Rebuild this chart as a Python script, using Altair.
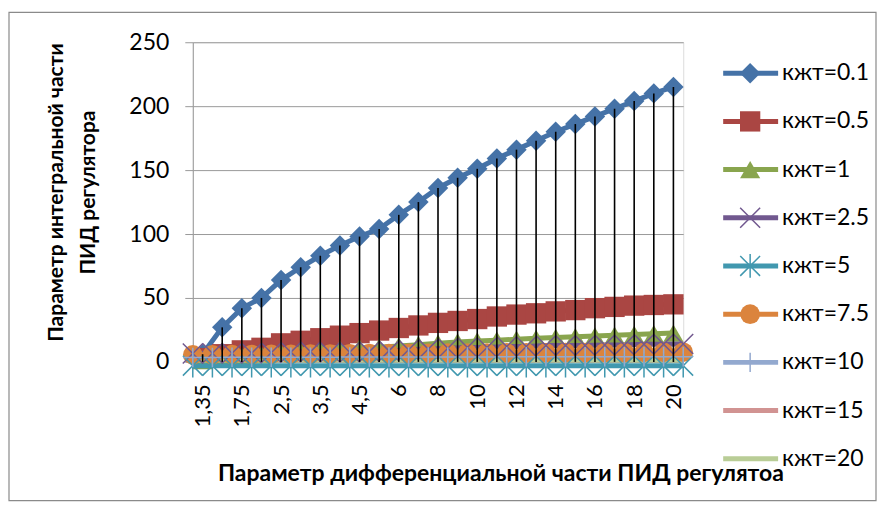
import json
import altair as alt
import pandas as pd

# ---------------- data ----------------
categories = ["1,35", "1,5", "1,75", "2", "2,5", "3", "3,5", "4", "4,5", "5",
              "6", "7", "8", "9", "10", "11", "12", "13", "14", "15",
              "16", "17", "18", "19", "20"]

series_names = ["кжт=0.1", "кжт=0.5", "кжт=1", "кжт=2.5", "кжт=5",
                "кжт=7.5", "кжт=10", "кжт=15", "кжт=20"]
series_colors = ["#4572A7", "#AA4643", "#89A54E", "#71588F", "#4198AF",
                 "#DB843D", "#93A9CF", "#D19392", "#B9CD96"]

# primary-axis series (one value per category)
k01 = [6, 27, 42, 50, 64, 74, 83, 91, 98, 104, 115, 125, 136, 144, 151,
       159, 166, 173, 180, 186, 192, 198, 204, 210, 215]
k05 = [3, 6, 9, 11, 14.5, 16.5, 18.5, 20.5, 22.5, 24.5, 26.5, 28.5, 30.5,
       32, 33.5, 35.5, 37, 38, 39.5, 40.5, 42, 43, 44, 44.5, 45]
k1 = [1, 3, 4.5, 5.5, 7, 8, 9, 10, 11, 11.5, 12.5, 13.5, 14.5, 15.5, 16.3,
      17, 17.7, 18.4, 19, 19.6, 20.2, 20.8, 21.4, 22, 22.5]

# secondary-axis series (plotted between the category ticks, 26 points)
k25 = [6.5, 6.8, 6.8, 6.8, 7.2, 7.6, 8, 7.5, 7.5, 8, 8.6, 9.5, 10, 10.7,
       11.2, 11.2, 12, 12, 12.8, 12.8, 12.8, 13.2, 13.2, 13.8, 13.8, 14]
k5 = [-3, -3, -3, -3, -3, -3, -3, -3, -3, -3, -3, -3, -3, -3, -3, -3, -3,
      -3, -3, -3, -3, -3, -3, -3, -3, -3]
k75 = [5.5, 5.6, 5.7, 5.8, 5.9, 6, 6.1, 6.2, 6.3, 6.4, 6.5, 6.6, 6.7, 6.8,
       6.8, 6.9, 7, 7, 7.1, 7.2, 7.2, 7.3, 7.3, 7.4, 7.4, 7.5]
k10 = [3.5, 3.5, 3.6, 3.6, 3.6, 3.7, 3.7, 3.7, 3.8, 3.8, 3.8, 3.8, 3.9,
       3.9, 3.9, 3.9, 4, 4, 4, 4, 4, 4, 4, 4, 4, 4]
k15 = [2.5, 2.5, 2.5, 2.5, 2.5, 2.5, 2.5, 2.5, 2.5, 2.5, 2.5, 2.5, 2.5,
       2.5, 2.5, 2.5, 2.5, 2.5, 2.5, 2.5, 2.5, 2.5, 2.5, 2.5, 2.5, 2.5]
k20 = [1.5, 1.5, 1.5, 1.5, 1.5, 1.5, 1.5, 1.5, 1.5, 1.5, 1.5, 1.5, 1.5,
       1.5, 1.5, 1.5, 1.5, 1.5, 1.5, 1.5, 1.5, 1.5, 1.5, 1.5, 1.5, 1.5]

y_ticks = [0, 50, 100, 150, 200, 250]

y_title = ["Параметр интегральной части", "ПИД регулятора"]
x_title = "Параметр дифференциальной части ПИД регулятоа"

# ---------------- tables ----------------
primary = {"кжт=0.1": k01, "кжт=0.5": k05, "кжт=1": k1}
secondary = {"кжт=2.5": k25, "кжт=5": k5, "кжт=7.5": k75,
             "кжт=10": k10, "кжт=15": k15, "кжт=20": k20}

rows_p = []
for name, vals in primary.items():
    for i, v in enumerate(vals):
        rows_p.append({"series": name, "pos": i, "value": v})
df_p = pd.DataFrame(rows_p)

rows_s = []
for name, vals in secondary.items():
    for i, v in enumerate(vals):
        rows_s.append({"series": name, "pos": i - 0.5, "value": v})
df_s = pd.DataFrame(rows_s)

df_drop = pd.DataFrame({"pos": list(range(len(k01))), "value": k01})
df_leg = pd.DataFrame({"series": series_names})

# ---------------- styling ----------------
FONT = "Lato"
GRAY = "#9a9a9a"

marker_names = ["кжт=0.1", "кжт=0.5", "кжт=1", "кжт=2.5", "кжт=5", "кжт=7.5", "кжт=10"]
marker_shapes = ["diamond", "square", "triangle-up",
                 "M-1,-1L1,1M-1,1L1,-1",
                 "M-1,-1L1,1M-1,1L1,-1M0,-1.2L0,1.2",
                 "circle",
                 "M-1,0L1,0M0,-1L0,1"]
marker_sizes = [420, 380, 400, 200, 200, 220, 230]
filled_set = ["кжт=0.1", "кжт=0.5", "кжт=1", "кжт=7.5"]
stroked_set = ["кжт=2.5", "кжт=5", "кжт=10"]

color_enc = alt.Color("series:N", scale=alt.Scale(domain=series_names, range=series_colors), legend=None)
shape_enc = alt.Shape("series:N", scale=alt.Scale(domain=marker_names, range=marker_shapes), legend=None)
size_enc = alt.Size("series:N", scale=alt.Scale(domain=marker_names, range=marker_sizes), legend=None)

x_scale = alt.Scale(domain=[-0.5, len(categories) - 0.5], nice=False, zero=False)
y_scale = alt.Scale(domain=[0, 250], nice=False)

label_expr = json.dumps(categories, ensure_ascii=False) + "[datum.value]"

x_axis = alt.Axis(
    values=list(range(0, len(categories), 2)), labelExpr=label_expr,
    labelAngle=270, labelFont=FONT, labelFontSize=22, labelColor="#000",
    labelPadding=22, ticks=False, grid=False, domainColor=GRAY,
    title=x_title, titleFont=FONT, titleFontSize=23, titleFontWeight="bold",
    titleColor="#000", titleX=308, titleY=119, titleAlign="center",
    titleBaseline="alphabetic", titleAnchor="start")
y_axis = alt.Axis(
    values=y_ticks, grid=True, gridColor=GRAY, tickSize=8, tickColor=GRAY,
    domainColor=GRAY, labelFont=FONT, labelFontSize=23, labelColor="#000",
    labelPadding=16, title=y_title, titleFont=FONT, titleFontSize=21,
    titleFontWeight="bold", titleColor="#000", titleLineHeight=32,
    titleX=-126, titleY=150, titleAngle=270, titleBaseline="bottom",
    titleAlign="center", titleAnchor="start")

x_enc = alt.X("pos:Q", scale=x_scale, axis=x_axis)
y_enc = alt.Y("value:Q", scale=y_scale, axis=y_axis)

# primary series
p_lines = alt.Chart(df_p).mark_line(strokeWidth=5).encode(
    x=x_enc, y=y_enc, color=color_enc, detail="series:N", order="pos:Q")
p_points = alt.Chart(df_p).mark_point(filled=True, opacity=1).encode(
    x=x_enc, y=y_enc, color=color_enc, shape=shape_enc, size=size_enc)

# secondary series
s_lines = alt.Chart(df_s).mark_line(strokeWidth=5).encode(
    x=x_enc, y=y_enc, color=color_enc, detail="series:N", order="pos:Q")
s_filled = alt.Chart(df_s).transform_filter(
    alt.FieldOneOfPredicate(field="series", oneOf=filled_set)
).mark_point(filled=True, opacity=1).encode(
    x=x_enc, y=y_enc, color=color_enc, shape=shape_enc, size=size_enc)
s_stroked = alt.Chart(df_s).transform_filter(
    alt.FieldOneOfPredicate(field="series", oneOf=stroked_set)
).mark_point(filled=False, opacity=1, strokeWidth=1.5).encode(
    x=x_enc, y=y_enc, color=color_enc, shape=shape_enc, size=size_enc)

# drop lines
drops = alt.Chart(df_drop).mark_rule(color="black", strokeWidth=1.6).encode(
    x=x_enc, y=y_enc, y2=alt.Y2(datum=0))

main = alt.layer(p_lines, p_points, s_lines, s_filled, s_stroked, drops)

# legend
leg_y = alt.Y("series:N", scale=alt.Scale(type="point", domain=series_names,
                                          range=[31, 417], padding=0), axis=None)
leg_size = alt.Size("series:N", scale=alt.Scale(domain=marker_names, range=marker_sizes), legend=None)
leg_lines = alt.Chart(df_leg).mark_rule(strokeWidth=5).encode(
    x=alt.value(531), x2=alt.value(586), y=leg_y, color=color_enc)
leg_filled = alt.Chart(df_leg).transform_filter(
    alt.FieldOneOfPredicate(field="series", oneOf=filled_set)
).mark_point(filled=True, opacity=1).encode(
    x=alt.value(558), y=leg_y, color=color_enc, shape=shape_enc, size=size_enc)
leg_stroked = alt.Chart(df_leg).transform_filter(
    alt.FieldOneOfPredicate(field="series", oneOf=stroked_set)
).mark_point(filled=False, opacity=1, strokeWidth=1.5).encode(
    x=alt.value(558), y=leg_y, color=color_enc, shape=shape_enc, size=size_enc)
leg_text = alt.Chart(df_leg).mark_text(
    align="left", baseline="middle", font=FONT, fontSize=23, color="#000"
).encode(x=alt.value(590), y=leg_y, text="series:N")
legend = alt.layer(leg_lines, leg_filled, leg_stroked, leg_text)

# outer frame of the chart area
frame = alt.Chart(pd.DataFrame({"k": [0]})).mark_rect(
    fill="transparent", stroke="#8a8a8a", strokeWidth=1.2
).encode(x=alt.value(-184), x2=alt.value(684), y=alt.value(-30), y2=alt.value(459))

chart = alt.layer(main, legend, frame).resolve_scale(y="independent").properties(
    width=491, height=320,
    padding={"left": 0, "top": 3, "right": 0, "bottom": 0}
).configure_view(strokeWidth=0, stroke="transparent").configure(background="white")

chart.save("out.html", embed_options={"renderer": "svg", "actions": False})
